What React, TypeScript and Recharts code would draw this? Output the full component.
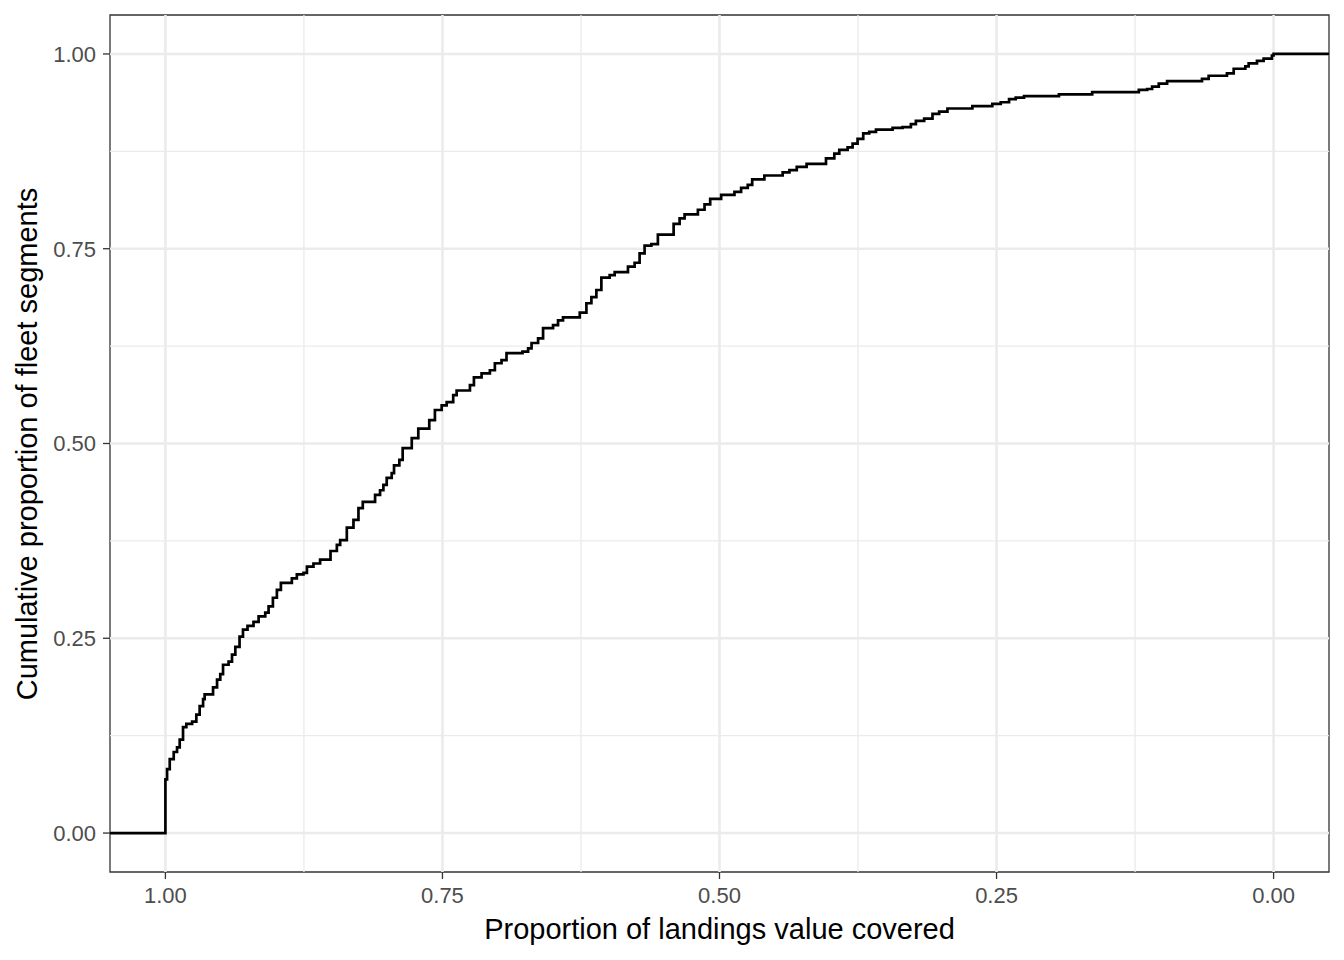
import React from 'react';
import { LineChart, Line, XAxis, YAxis, ReferenceLine, ReferenceArea } from 'recharts';

const xValues = [
  1.05, 1.0, 0.9985, 0.9961, 0.9925, 0.9895, 0.9871, 0.9841, 0.9811, 0.9759, 0.9721, 0.9691, 0.966,
  0.9646, 0.957, 0.9534, 0.9505, 0.948, 0.943, 0.9399, 0.9369, 0.9331, 0.93, 0.9259, 0.9205, 0.9159,
  0.9099, 0.9069, 0.903, 0.8994, 0.8958, 0.8859, 0.8814, 0.8754, 0.8723, 0.8664, 0.8604, 0.851,
  0.8453, 0.8423, 0.8363, 0.8303, 0.8258, 0.8219, 0.8108, 0.8063, 0.8033, 0.8003, 0.7958, 0.7937,
  0.7889, 0.7859, 0.7777, 0.7718, 0.7619, 0.7568, 0.7507, 0.7462, 0.7403, 0.7372, 0.7252, 0.7216,
  0.7147, 0.7072, 0.7027, 0.6967, 0.6922, 0.6778, 0.6727, 0.6696, 0.6637, 0.6592, 0.6502, 0.6457,
  0.6412, 0.6261, 0.6201, 0.6156, 0.6111, 0.6066, 0.5991, 0.5946, 0.5826, 0.5766, 0.5721, 0.5676,
  0.5615, 0.5556, 0.5414, 0.536, 0.5315, 0.5195, 0.5135, 0.5084, 0.4985, 0.4865, 0.4805, 0.4745,
  0.4705, 0.4595, 0.443, 0.4369, 0.4303, 0.4214, 0.4039, 0.3964, 0.3919, 0.3844, 0.3799, 0.3754,
  0.3703, 0.3649, 0.3588, 0.3438, 0.3348, 0.3273, 0.3228, 0.3153, 0.3078, 0.3018, 0.2943, 0.2718,
  0.2538, 0.2462, 0.2387, 0.2327, 0.2252, 0.1937, 0.1637, 0.1216, 0.1141, 0.1096, 0.1036, 0.0961,
  0.0646, 0.0586, 0.0421, 0.036, 0.0255, 0.0225, 0.015, 0.009, 0.0015, 0.0, -0.05,
];

const yValues = [
  0, 0.069, 0.082, 0.095, 0.104, 0.11, 0.12, 0.136, 0.14, 0.143, 0.152, 0.163, 0.172,
  0.178, 0.187, 0.197, 0.204, 0.216, 0.22, 0.229, 0.239, 0.252, 0.261, 0.266, 0.271, 0.278,
  0.283, 0.291, 0.302, 0.312, 0.321, 0.327, 0.332, 0.334, 0.342, 0.346, 0.351, 0.362,
  0.37, 0.376, 0.392, 0.402, 0.417, 0.425, 0.434, 0.44, 0.447, 0.456, 0.462, 0.472,
  0.479, 0.494, 0.507, 0.519, 0.53, 0.543, 0.549, 0.553, 0.562, 0.568, 0.575, 0.585,
  0.59, 0.594, 0.603, 0.607, 0.616, 0.618, 0.622, 0.629, 0.635, 0.648, 0.652, 0.658,
  0.662, 0.668, 0.68, 0.688, 0.697, 0.713, 0.716, 0.72, 0.727, 0.732, 0.744, 0.754,
  0.756, 0.768, 0.782, 0.789, 0.794, 0.8, 0.807, 0.814, 0.819, 0.823, 0.828, 0.832,
  0.839, 0.844, 0.848, 0.851, 0.855, 0.859, 0.866, 0.872, 0.877, 0.88, 0.885, 0.891,
  0.898, 0.9, 0.903, 0.905, 0.906, 0.91, 0.914, 0.917, 0.923, 0.926, 0.93, 0.933,
  0.936, 0.938, 0.942, 0.944, 0.946, 0.948, 0.951, 0.954, 0.955, 0.958, 0.962, 0.965,
  0.968, 0.972, 0.975, 0.981, 0.984, 0.988, 0.991, 0.994, 0.998, 1.0, 1.0,
];

const majorTicks = [0, 0.25, 0.5, 0.75, 1];
const minorTicks = [0.125, 0.375, 0.625, 0.875];
const axisDomain = [-0.05, 1.05];

const xTitle = 'Proportion of landings value covered';
const yTitle = 'Cumulative proportion of fleet segments';

const data = xValues.map((x, i) => ({ x, y: yValues[i] }));

const FONT = '"Liberation Sans", Arial, Helvetica, sans-serif';
const fmt = (v: number) => v.toFixed(2);

export default function App() {
  return (
    <div style={{ position: 'absolute', left: 0, top: 0, width: 1344, height: 960, background: '#fff', fontFamily: FONT }}>
      <LineChart
        width={1344}
        height={960}
        data={data}
        margin={{ top: 15, right: 15, bottom: 0, left: 0 }}
      >
        {minorTicks.map((t) => (
          <ReferenceLine key={'mx' + t} x={t} stroke="#EBEBEB" strokeWidth={1.3} />
        ))}
        {minorTicks.map((t) => (
          <ReferenceLine key={'my' + t} y={t} stroke="#EBEBEB" strokeWidth={1.3} />
        ))}
        {majorTicks.map((t) => (
          <ReferenceLine key={'Mx' + t} x={t} stroke="#EBEBEB" strokeWidth={2.6} />
        ))}
        {majorTicks.map((t) => (
          <ReferenceLine key={'My' + t} y={t} stroke="#EBEBEB" strokeWidth={2.6} />
        ))}
        <XAxis
          dataKey="x"
          type="number"
          domain={axisDomain}
          reversed
          allowDataOverflow
          ticks={majorTicks}
          tickFormatter={fmt}
          height={88}
          axisLine={false}
          tickSize={7}
          tickMargin={8}
          tickLine={{ stroke: '#333333', strokeWidth: 1.3 }}
          tick={{ fill: '#4D4D4D', fontSize: 22, fontFamily: FONT }}
        />
        <YAxis
          type="number"
          domain={axisDomain}
          allowDataOverflow
          ticks={majorTicks}
          tickFormatter={fmt}
          width={110}
          axisLine={false}
          tickSize={7}
          tickMargin={7}
          tickLine={{ stroke: '#333333', strokeWidth: 1.3 }}
          tick={{ fill: '#4D4D4D', fontSize: 22, fontFamily: FONT }}
        />
        <Line
          dataKey="y"
          type="stepAfter"
          stroke="#000000"
          strokeWidth={2.7}
          dot={false}
          activeDot={false}
          isAnimationActive={false}
        />
        <ReferenceArea
          x1={axisDomain[0]}
          x2={axisDomain[1]}
          y1={axisDomain[0]}
          y2={axisDomain[1]}
          fill="none"
          fillOpacity={0}
          stroke="#333333"
          strokeWidth={1.3}
          ifOverflow="visible"
        />
      </LineChart>
      <div
        style={{
          position: 'absolute',
          left: 719.5,
          top: 929,
          transform: 'translate(-50%, -50%)',
          fontSize: 29,
          color: '#000',
          whiteSpace: 'nowrap',
          lineHeight: 1,
        }}
      >
        {xTitle}
      </div>
      <div
        style={{
          position: 'absolute',
          left: 27,
          top: 443.5,
          transform: 'translate(-50%, -50%) rotate(-90deg)',
          fontSize: 29,
          color: '#000',
          whiteSpace: 'nowrap',
          lineHeight: 1,
        }}
      >
        {yTitle}
      </div>
    </div>
  );
}
